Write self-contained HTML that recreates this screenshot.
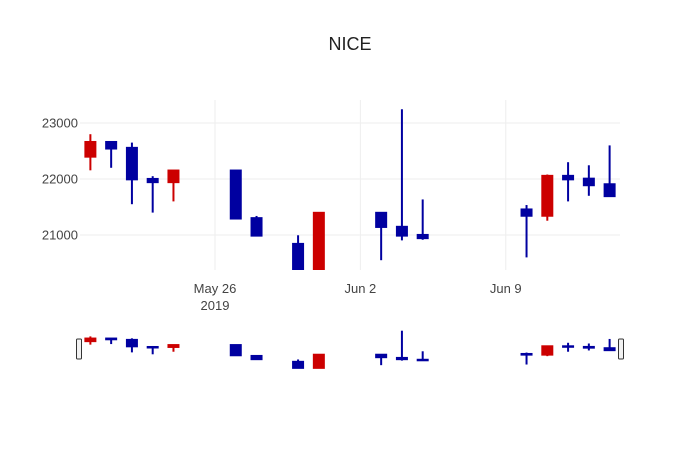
<!DOCTYPE html>
<html><head><meta charset="utf-8"><style>
body{margin:0;background:#fff;}
svg{display:block;font-family:"Liberation Sans","DejaVu Sans",sans-serif;}
</style></head><body>
<svg id="chart" width="700" height="450">
<text x="350" y="50" text-anchor="middle" font-size="18" fill="#222">NICE</text>
<defs><clipPath id="pc"><rect x="80" y="100" width="540" height="170"/></clipPath></defs>
<g id="grid"></g>
<g id="yticks"></g>
<g id="xticks"></g>
<g id="main" clip-path="url(#pc)"></g>
<g id="slider"></g>
</svg>
<script>
const dates=["2019-05-20","2019-05-21","2019-05-22","2019-05-23","2019-05-24","2019-05-27","2019-05-28","2019-05-30","2019-05-31","2019-06-03","2019-06-04","2019-06-05","2019-06-10","2019-06-11","2019-06-12","2019-06-13","2019-06-14"];
const opens=[22390,22670,22565,22010,21935,22160,21310,20850,20300,21405,21155,21010,21465,21335,22065,22015,21915];
const highs=[22800,22670,22650,22050,22160,22160,21340,20995,21405,21405,23245,21635,21535,22080,22300,22245,22600];
const lows=[22155,22200,21550,21400,21600,21285,20980,20300,20300,20550,20905,20915,20600,21255,21600,21700,21685];
const closes=[22670,22535,21985,21935,22160,21285,20980,20300,21405,21135,20980,20935,21335,22065,21985,21880,21685];
const yTicks=[21000,22000,23000];
const xTicks=[["2019-05-26","May 26","2019"],["2019-06-02","Jun 2",""],["2019-06-09","Jun 9",""]];
const NS="http://www.w3.org/2000/svg";
const d0=Date.parse("2019-05-19T12:00:00Z"),d1=Date.parse("2019-06-14T12:00:00Z");
function day(s){return (Date.parse(s+"T00:00:00Z")-d0)/86400000;}
const span=(d1-d0)/86400000;
function xs(s){return 80+day(s)/span*540;}
function ym(v){return 179-(v-22000)*0.056;}
const smin=20250,smax=23300;
function yr(v){return 369-(v-smin)/(smax-smin)*39;}
function el(t,a,p){const e=document.createElementNS(NS,t);for(const k in a)e.setAttribute(k,a[k]);p.appendChild(e);return e;}
const grid=document.getElementById('grid'),yt=document.getElementById('yticks'),xt=document.getElementById('xticks');
yTicks.forEach(v=>{
 const l=el('line',{x1:80,x2:620,y1:ym(v),y2:ym(v),stroke:'#eee','stroke-width':1},grid);
 
 
 const t=el('text',{x:78,y:ym(v)+4.5,'text-anchor':'end','font-size':13,fill:'#444'},yt);
 t.textContent=v;
 
 
});
xTicks.forEach(a=>{
 const x=xs(a[0]);
 const l=el('line',{x1:x,x2:x,y1:100,y2:270,stroke:'#eee','stroke-width':1},grid);
 
 
 const t=el('text',{x:x,y:293,'text-anchor':'middle','font-size':13,fill:'#444'},xt);
 t.textContent=a[1];
 
 
 if(a[2]){const t2=el('text',{x:x,y:310,'text-anchor':'middle','font-size':13,fill:'#444'},xt);t2.textContent=a[2];
 
 }
});
function draw(g,yf,hw){
 dates.forEach((d,i)=>{
  const x=xs(d),c=closes[i]>=opens[i]?'#cc0000':'#0000a0';
  const grp=el('g',{},g);
  
  
  el('line',{x1:x,x2:x,y1:yf(highs[i]),y2:yf(lows[i]),stroke:c,'stroke-width':2},grp);
  const t=Math.min(yf(opens[i]),yf(closes[i])),b=Math.max(yf(opens[i]),yf(closes[i]));
  el('rect',{x:x-hw,y:t,width:hw*2,height:Math.max(b-t,1.5),fill:c,stroke:c,'stroke-width':1},grp);
 });
}
draw(document.getElementById('main'),ym,5.5);
const sl=document.getElementById('slider');
draw(sl,yr,5.5);
[79,621].forEach(x=>{const h=el('rect',{x:x-2.5,y:339,width:5,height:20,rx:1,fill:'#f2f2f2',stroke:'#333','stroke-width':1},sl);
 
 });
</script>
</body></html>
